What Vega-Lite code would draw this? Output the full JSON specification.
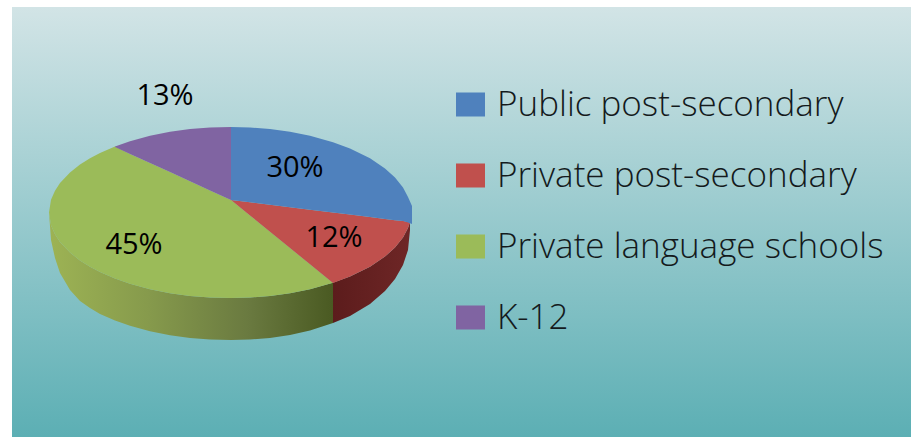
{
"$schema":"https://vega.github.io/schema/vega-lite/v6.json",
"width":899,"height":430,
"autosize":{"type":"none"},
"padding":{"left":12,"top":7,"right":0,"bottom":0},
"background":"white",
"view":{"stroke":null,"fill":{"gradient":"linear","x1":0,"y1":0,"x2":0,"y2":1,"stops":[{"offset":0,"color":"#d2e4e6"},{"offset":1,"color":"#5cafb4"}]}},
"datasets":{
"walls":[
{"slice":"green","x":49,"y":212.5,"y2":212.5},{"slice":"green","x":51,"y":225.2,"y2":240},{"slice":"green","x":55,"y":234.3,"y2":258},{"slice":"green","x":60,"y":241.9,"y2":273},{"slice":"green","x":70,"y":252.5,"y2":290},{"slice":"green","x":80,"y":260.4,"y2":301},{"slice":"green","x":90,"y":266.7,"y2":308},{"slice":"green","x":100,"y":272,"y2":314},{"slice":"green","x":115,"y":278.5,"y2":320.5},{"slice":"green","x":130,"y":283.8,"y2":325.8},{"slice":"green","x":150,"y":289.2,"y2":331.2},{"slice":"green","x":170,"y":293.2,"y2":335.2},{"slice":"green","x":190,"y":295.9,"y2":337.9},{"slice":"green","x":210,"y":297.5,"y2":339.5},{"slice":"green","x":231,"y":298,"y2":340},{"slice":"green","x":250,"y":297.5,"y2":339.5},{"slice":"green","x":270,"y":295.9,"y2":337.9},{"slice":"green","x":290,"y":293.2,"y2":335},{"slice":"green","x":310,"y":289.2,"y2":330.5},{"slice":"green","x":333,"y":282.8,"y2":323},
{"slice":"red","x":333,"y":282.8,"y2":323},{"slice":"red","x":350,"y":276.5,"y2":316},{"slice":"red","x":370,"y":266.7,"y2":304},{"slice":"red","x":385,"y":256.6,"y2":291},{"slice":"red","x":395,"y":247.6,"y2":279},{"slice":"red","x":403,"y":237.6,"y2":265},{"slice":"red","x":408,"y":228.1,"y2":250},{"slice":"red","x":410,"y":222,"y2":230}
],
"tops":[
{"sector":"Private language schools","x":49,"y":212.5,"y2":212.5},{"sector":"Private language schools","x":51,"y":199.8,"y2":225.2},{"sector":"Private language schools","x":55,"y":190.7,"y2":234.3},{"sector":"Private language schools","x":60,"y":183.1,"y2":241.9},{"sector":"Private language schools","x":70,"y":172.5,"y2":252.5},{"sector":"Private language schools","x":80,"y":164.6,"y2":260.4},{"sector":"Private language schools","x":90,"y":158.3,"y2":266.7},{"sector":"Private language schools","x":100,"y":153,"y2":272},{"sector":"Private language schools","x":115,"y":146.5,"y2":278.5},{"sector":"Private language schools","x":130,"y":153.9,"y2":283.8},{"sector":"Private language schools","x":150,"y":163,"y2":289.2},{"sector":"Private language schools","x":170,"y":172.1,"y2":293.2},{"sector":"Private language schools","x":190,"y":181.3,"y2":295.9},{"sector":"Private language schools","x":210,"y":190.4,"y2":297.5},{"sector":"Private language schools","x":231,"y":200,"y2":298},{"sector":"Private language schools","x":250,"y":215.5,"y2":297.5},{"sector":"Private language schools","x":270,"y":231.7,"y2":295.9},{"sector":"Private language schools","x":290,"y":248,"y2":293.2},{"sector":"Private language schools","x":310,"y":264.3,"y2":289.2},{"sector":"Private language schools","x":333,"y":283,"y2":282.8},
{"sector":"Private post-secondary","x":231,"y":200,"y2":200},{"sector":"Private post-secondary","x":250,"y":202.3,"y2":215.5},{"sector":"Private post-secondary","x":270,"y":204.8,"y2":231.7},{"sector":"Private post-secondary","x":290,"y":207.2,"y2":248},{"sector":"Private post-secondary","x":310,"y":209.7,"y2":264.3},{"sector":"Private post-secondary","x":333,"y":212.5,"y2":283},{"sector":"Private post-secondary","x":350,"y":214.6,"y2":276.5},{"sector":"Private post-secondary","x":370,"y":217.1,"y2":266.7},{"sector":"Private post-secondary","x":385,"y":218.9,"y2":256.6},{"sector":"Private post-secondary","x":395,"y":220.2,"y2":247.6},{"sector":"Private post-secondary","x":403,"y":221.1,"y2":237.6},{"sector":"Private post-secondary","x":408,"y":221.8,"y2":228.1},{"sector":"Private post-secondary","x":410,"y":222,"y2":222},
{"sector":"K-12","x":115,"y":146.5,"y2":147},{"sector":"K-12","x":130,"y":141.2,"y2":153.9},{"sector":"K-12","x":150,"y":135.8,"y2":163},{"sector":"K-12","x":170,"y":131.8,"y2":172.1},{"sector":"K-12","x":190,"y":129.1,"y2":181.3},{"sector":"K-12","x":210,"y":127.5,"y2":190.4},{"sector":"K-12","x":231,"y":127,"y2":200},
{"sector":"Public post-secondary","x":231,"y":127,"y2":200},{"sector":"Public post-secondary","x":250,"y":127.5,"y2":202.3},{"sector":"Public post-secondary","x":270,"y":129.1,"y2":204.8},{"sector":"Public post-secondary","x":290,"y":131.8,"y2":207.2},{"sector":"Public post-secondary","x":310,"y":135.8,"y2":209.7},{"sector":"Public post-secondary","x":333,"y":142.2,"y2":212.5},{"sector":"Public post-secondary","x":350,"y":148.5,"y2":214.6},{"sector":"Public post-secondary","x":370,"y":158.3,"y2":217.1},{"sector":"Public post-secondary","x":385,"y":168.4,"y2":218.9},{"sector":"Public post-secondary","x":395,"y":177.4,"y2":220.2},{"sector":"Public post-secondary","x":403,"y":187.4,"y2":221.1},{"sector":"Public post-secondary","x":408,"y":196.9,"y2":222.5},{"sector":"Public post-secondary","x":412,"y":206,"y2":224}
],
"labels":[
{"sector":"Public post-secondary","share":"30%","x":295,"y":168},
{"sector":"Private post-secondary","share":"12%","x":334,"y":238},
{"sector":"Private language schools","share":"45%","x":134,"y":245},
{"sector":"K-12","share":"13%","x":165,"y":96}
]
},
"data":{"name":"tops"},
"encoding":{"x":{"field":"x","type":"quantitative","scale":{"domain":[12,911],"zero":false,"nice":false},"axis":null},"y":{"field":"y","type":"quantitative","scale":{"domain":[437,7],"zero":false,"nice":false},"axis":null}},
"layer":[
{"data":{"name":"walls"},"transform":[{"filter":"datum.slice==='green'"}],
 "mark":{"type":"area","color":{"gradient":"linear","x1":0,"y1":0,"x2":1,"y2":0,"stops":[{"offset":0,"color":"#9db354"},{"offset":0.35,"color":"#869a4c"},{"offset":0.7,"color":"#6a7a40"},{"offset":1,"color":"#4a5a22"}]}},
 "encoding":{"y2":{"field":"y2"}}},
{"data":{"name":"walls"},"transform":[{"filter":"datum.slice==='red'"}],
 "mark":{"type":"area","color":{"gradient":"linear","x1":0,"y1":0,"x2":1,"y2":0,"stops":[{"offset":0,"color":"#5c1c1c"},{"offset":1,"color":"#6e2626"}]}},
 "encoding":{"y2":{"field":"y2"}}},
{"mark":{"type":"area"},
 "encoding":{"y2":{"field":"y2"},
  "color":{"field":"sector","type":"nominal","sort":null,
   "scale":{"domain":["Public post-secondary","Private post-secondary","Private language schools","K-12"],"range":["#4f81bd","#c0504d","#9bbb59","#8064a2"]},
   "legend":{"orient":"none","legendX":441,"legendY":74,"title":null,"symbolType":"M-1,-0.83H1V0.83H-1Z","symbolSize":841,"symbolStrokeWidth":0,"symbolOpacity":1,"labelFont":"Open Sans","labelFontWeight":300,"labelFontSize":35,"labelColor":"#141a1c","labelLimit":460,"labelOffset":9,"rowPadding":24,"clipHeight":47}}}},
{"data":{"name":"labels"},"mark":{"type":"text","font":"Open Sans","fontSize":29,"color":"#000000","align":"center","baseline":"middle"},
 "encoding":{"text":{"field":"share"}}}
]
}
